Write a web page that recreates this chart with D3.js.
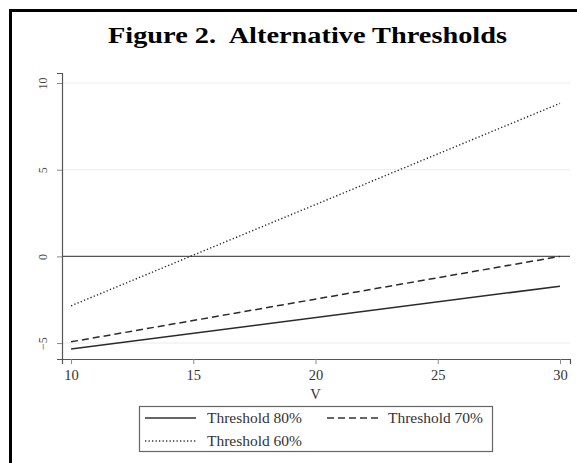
<!DOCTYPE html>
<html><head><meta charset="utf-8">
<script src="https://cdn.jsdelivr.net/npm/d3@7"></script>
<style>body{margin:0;background:#fff}svg{display:block}text{font-family:"Liberation Serif","DejaVu Serif",serif}</style>
</head><body>
<svg id="c" width="577" height="463"></svg>
<script>
const vValues = [10, 30];
const threshold80 = [-5.34, -1.72];
const threshold70 = [-4.93, 0.0];
const threshold60 = [-2.85, 8.83];
const seriesNames = ["Threshold 80%", "Threshold 70%", "Threshold 60%"];
const xTicks = [10, 15, 20, 25, 30];
const yTicks = [-5, 0, 5, 10];
const titleText = "Figure 2.\u00A0 Alternative Thresholds";
const xLabel = "V";

const svg = d3.select("#c");
const x = d3.scaleLinear().domain([9.63, 30.41]).range([62, 570]);
const y = d3.scaleLinear().domain([-5.92, 10.58]).range([359, 73]);

// frame
svg.append("line").attr("x1",9).attr("x2",577).attr("y1",10.5).attr("y2",10.5).attr("stroke","#000").attr("stroke-width",3);
svg.append("line").attr("x1",10.5).attr("x2",10.5).attr("y1",9).attr("y2",463).attr("stroke","#000").attr("stroke-width",3);

svg.append("text").attr("x",108).attr("y",43)
  .attr("font-size",23).attr("font-weight","bold").attr("fill","#000")
  .attr("textLength",399).attr("lengthAdjust","spacingAndGlyphs").text(titleText);

// gridlines
svg.append("g").selectAll("line").data(yTicks.filter(d=>d!==0)).join("line")
  .attr("x1",x.range()[0]).attr("x2",x.range()[1]).attr("y1",d=>y(d)).attr("y2",d=>y(d))
  .attr("stroke","#ebebeb").attr("stroke-width",1);

// zero line
svg.append("line").attr("x1",x.range()[0]).attr("x2",x.range()[1]).attr("y1",y(0)).attr("y2",y(0))
  .attr("stroke","#555").attr("stroke-width",1.3);

// axes
const yAxis = svg.append("g").attr("transform",`translate(${x.range()[0]},0)`)
  .call(d3.axisLeft(y).tickValues(yTicks).tickSize(5).tickFormat(d3.format("d")));
yAxis.select(".domain").attr("stroke","#555").attr("stroke-width",1.2);
yAxis.selectAll(".tick line").attr("stroke","#888");
yAxis.selectAll(".tick text").each(function(){
  d3.select(this).attr("transform","rotate(-90)").attr("x",0).attr("y",-19).attr("dy","0.35em")
    .attr("text-anchor","middle").attr("font-size",12).attr("fill","#444");
});

const xAxis = svg.append("g").attr("transform",`translate(0,${y.range()[0]})`)
  .call(d3.axisBottom(x).tickValues(xTicks).tickSize(5).tickPadding(6).tickFormat(d3.format("d")));
xAxis.select(".domain").attr("stroke","#555").attr("stroke-width",1.2);
xAxis.selectAll(".tick line").attr("stroke","#888");
xAxis.selectAll(".tick text").attr("font-size",14.5).attr("fill","#333");

svg.append("text").attr("x",x(20)).attr("y",399).attr("text-anchor","middle").attr("font-size",14.5).attr("fill","#333").text(xLabel);

// series
const styles = [
  {dash:null, w:1.5},
  {dash:"7,4", w:1.5},
  {dash:"1.3,2.2", w:1.4}
];
const data = [threshold80, threshold70, threshold60];
const line = d3.line().x((d,i)=>x(vValues[i])).y(d=>y(d));
svg.append("g").selectAll("path").data(data).join("path")
  .attr("d",d=>line(d)).attr("fill","none").attr("stroke","#2a2a2a")
  .attr("stroke-width",(d,i)=>styles[i].w).attr("stroke-dasharray",(d,i)=>styles[i].dash);

// legend
const lg = svg.append("g");
lg.append("rect").attr("x",139.5).attr("y",406.5).attr("width",353).attr("height",45)
  .attr("fill","#fff").attr("stroke","#666").attr("stroke-width",1.2);
const legPos = [{x:145,y:418,tx:207},{x:327,y:418,tx:388},{x:145,y:441,tx:207}];
legPos.forEach((p,i)=>{
  lg.append("line").attr("x1",p.x).attr("x2",p.x+51).attr("y1",p.y).attr("y2",p.y)
    .attr("stroke","#333").attr("stroke-width",styles[i].w).attr("stroke-dasharray",styles[i].dash);
  lg.append("text").attr("x",p.tx).attr("y",p.y+5).attr("font-size",14).attr("fill","#333")
    .attr("textLength",95).attr("lengthAdjust","spacingAndGlyphs").text(seriesNames[i]);
});
</script>
</body></html>
